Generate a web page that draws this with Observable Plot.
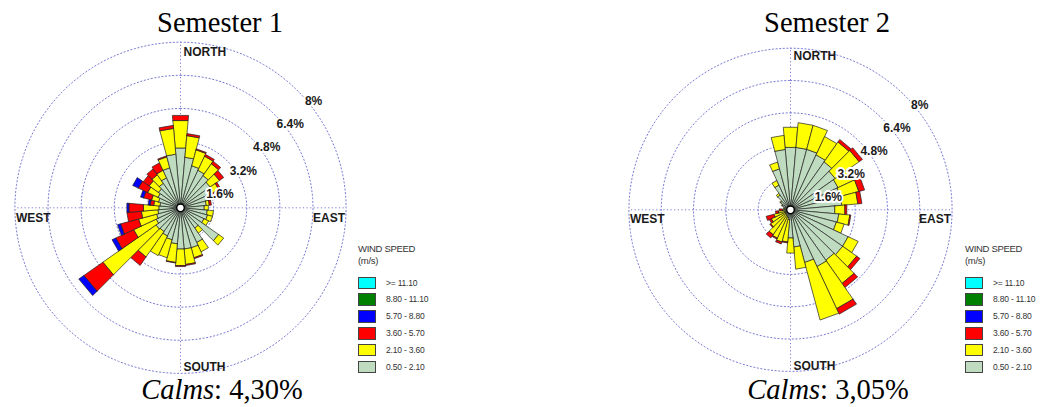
<!DOCTYPE html>
<html>
<head>
<meta charset="utf-8">
<script src="https://cdn.jsdelivr.net/npm/d3@7"></script>
<script src="https://cdn.jsdelivr.net/npm/@observablehq/plot@0.6"></script>
<style>
  html, body { margin: 0; padding: 0; background: #fff; }
  #root { position: relative; width: 1042px; height: 407px; overflow: hidden; background: #fff; }
  .title, .calms { position: absolute; width: 300px; text-align: center; white-space: nowrap;
    font-family: "Liberation Serif", "Times New Roman", serif; font-size: 28.5px; line-height: 28px; color: #000; }
  .rose { position: absolute; }
  .legend { position: absolute; font-family: "Liberation Sans", Arial, sans-serif; color: #333; }
  .legend .head { font-size: 9.5px; line-height: 12px; letter-spacing: -0.3px; }
  .legend .row { position: absolute; left: 0; height: 12px; white-space: nowrap; }
  .legend .sw { position: absolute; left: 0; top: 0; width: 16px; height: 10.5px; border: 1px solid #444; }
  .legend .lab { position: absolute; left: 28px; top: 0; font-size: 8.5px; line-height: 12px; letter-spacing: -0.2px; }
</style>
</head>
<body>
<div id="root"></div>
<script>
// ---------- data ----------
const directions = [0,10,20,30,40,50,60,70,80,90,100,110,120,130,140,150,160,170,180,190,200,210,220,230,240,250,260,270,280,290,300,310,320,330,340,350];
const speedClasses = ["0.50 - 2.10","2.10 - 3.60","3.60 - 5.70","5.70 - 8.80","8.80 - 11.10",">= 11.10"];
const classColors  = ["#c0dcc0","#ffff00","#ff0000","#0000ff","#008000","#00ffff"];
const ringValues = [1.6, 3.2, 4.8, 6.4, 8];
const ringLabels = ["1.6%","3.2%","4.8%","6.4%","8%"];
const compassLabels = ["NORTH","EAST","SOUTH","WEST"];
const compassAngles = [0, 90, 180, 270];
const titles = ["Semester 1", "Semester 2"];
const calmValues = ["4,30%", "3,05%"];

// Semester 1 frequencies (%) per direction, per speed class
const s1_050_210 = [2.9,2.45,2.1,2.0,1.9,1.75,1.6,1.35,1.25,1.15,1.3,1.35,1.25,2.25,1.2,1.85,2.0,2.0,2.0,1.75,1.6,1.5,1.4,1.45,1.3,1.2,1.1,1.05,1.0,1.1,1.2,1.3,1.45,1.6,2.0,2.6];
const s1_210_360 = [1.33,1.05,0.8,0.75,0.7,0.55,0.45,0.35,0.15,0.2,0.3,0.25,0.25,0.3,0.3,0.5,0.5,0.75,0.8,0.9,0.9,1.05,1.5,3.13,1.2,0.9,0.8,0.75,0.3,0.35,0.55,0.55,0.5,0.4,0.55,1.25];
const s1_360_570 = [0.25,0.1,0.05,0.1,0.15,0.25,0.1,0.05,0.1,0,0,0,0,0,0,0,0.05,0.05,0.05,0.03,0,0,0.5,1.12,0.95,0.9,0.7,0.7,0.17,0.4,0.5,0.35,0.35,0.4,0.05,0.15];
const s1_570_880 = [0,0,0,0,0,0,0,0,0,0,0,0,0,0,0,0,0,0,0,0,0,0,0,0.3,0.2,0.15,0,0.1,0.1,0.15,0.3,0,0,0,0,0];
const s1_880_1110 = [0,0,0,0,0,0,0,0,0,0,0,0,0,0,0,0,0,0,0,0,0,0,0,0,0,0,0,0,0,0,0,0,0,0,0,0];
const s1_1110 = [0,0,0,0,0,0,0,0,0,0,0,0,0,0,0,0,0,0,0,0,0,0,0,0,0,0,0,0,0,0,0,0,0,0,0,0];

// Semester 2
const s2_050_210 = [3.1,3.1,3.1,3.0,2.9,2.7,2.6,2.55,2.55,2.2,2.4,2.35,3.15,3.15,3.05,3.1,2.7,1.85,1.4,0.5,0.4,0.35,0.3,0.3,0.3,0.3,0.25,0.2,0.3,0.35,0.45,0.6,0.9,1.35,2.1,3.0];
const s2_210_360 = [1.0,1.23,1.23,1.0,1.2,1.45,0.85,0.95,0.8,0.5,0.55,0.4,0.55,0.85,1.4,2.3,2.95,1.1,0.75,1.1,1.25,1.2,1.2,0.9,0.75,0.55,0.35,0.2,0.05,0,0.05,0.05,0.1,0.25,0.35,0.7];
const s2_360_570 = [0,0,0,0,0.15,0.2,0.05,0.3,0.2,0.1,0.05,0,0,0.2,0.25,0.3,0,0,0,0.05,0.1,0.05,0.2,0.05,0.1,0.4,0.15,0.15,0,0,0,0,0,0,0,0];
const s2_570_880 = [0,0,0,0,0,0,0,0,0,0,0,0,0,0,0,0,0,0,0,0,0,0,0,0,0,0,0,0,0,0,0,0,0,0,0,0];
const s2_880_1110 = [0,0,0,0,0,0,0,0,0,0,0,0,0,0,0,0,0,0,0,0,0,0,0,0,0,0,0,0,0,0,0,0,0,0,0,0];
const s2_1110 = [0,0,0,0,0,0,0,0,0,0,0,0,0,0,0,0,0,0,0,0,0,0,0,0,0,0,0,0,0,0,0,0,0,0,0,0];

const semesters = [
  [s1_050_210, s1_210_360, s1_360_570, s1_570_880, s1_880_1110, s1_1110],
  [s2_050_210, s2_210_360, s2_360_570, s2_570_880, s2_880_1110, s2_1110]
];

// ---------- helpers ----------
const rad = d => d * Math.PI / 180;
const polar = (r, a) => ({x: r * Math.sin(rad(a)), y: r * Math.cos(rad(a))});
const sectorWidth = 360 / directions.length;

function buildWedges(series) {
  const pts = [];
  directions.forEach((dir, i) => {
    let cum = 0;
    series.forEach((vals, c) => {
      const v = vals[i];
      if (!(v > 0)) return;
      const r0 = cum, r1 = cum + v;
      const id = dir + "-" + c;
      const a0 = dir - sectorWidth / 2, a1 = dir + sectorWidth / 2;
      [[r0, a0], [r1, a0], [r1, a1], [r0, a1], [r0, a0]].forEach(([r, a]) => {
        pts.push({id, cls: speedClasses[c], ...polar(r, a)});
      });
      cum = r1;
    });
  });
  return pts;
}

function rose(series, k, cx, cy, W, H, lab) {
  const rmax = d3.max(ringValues);
  const rings = ringValues.flatMap(v => d3.range(0, 361, 2).map(t => ({ring: v, ...polar(v, t)})));
  const axes = compassAngles.map(a => ({a, ...polar(rmax, a)}));
  const grid = "#7a7ad4";
  const dash = "1.2,2.4";
  const font = {fontFamily: "'Liberation Sans', Arial, sans-serif", fontSize: 12, fontWeight: "bold", fill: "#1a1a1a"};
  const comp = (i, opts) => Plot.text([compassLabels[i]], {
    x: () => polar(rmax, compassAngles[i]).x, y: () => polar(rmax, compassAngles[i]).y,
    text: d => d, ...font, ...opts
  });
  return Plot.plot({
    width: W, height: H, margin: 0,
    style: {background: "transparent", overflow: "visible"},
    x: {domain: [-cx / k, (W - cx) / k], axis: null},
    y: {domain: [-(H - cy) / k, cy / k], axis: null},
    color: {domain: speedClasses, range: classColors},
    marks: [
      Plot.line(rings, {x: "x", y: "y", z: "ring", stroke: grid, strokeWidth: 1, strokeDasharray: dash}),
      Plot.link(axes, {x1: () => 0, y1: () => 0, x2: "x", y2: "y", stroke: grid, strokeWidth: 1, strokeDasharray: dash}),
      Plot.line(buildWedges(series), {x: "x", y: "y", z: "id", fill: "cls", stroke: "#222", strokeWidth: 0.7, strokeLinejoin: "miter"}),
      Plot.dot([0], {x: () => 0, y: () => 0, r: 3.8, fill: "white", stroke: "black", strokeWidth: 1.4}),
      comp(0, {textAnchor: "start", dx: 3, dy: lab.nDy}),
      comp(1, {textAnchor: "end", dx: -1, dy: lab.ewDy}),
      comp(2, {textAnchor: "start", dx: 3, dy: lab.sDy}),
      comp(3, {textAnchor: "start", dx: 1, dy: lab.ewDy}),
      Plot.text(ringValues, {
        x: v => polar(v, 45).x, y: v => polar(v, 45).y,
        text: (v, i) => ringLabels[i], dx: lab.rDx, dy: lab.rDy,
        stroke: "white", strokeWidth: 4, strokeLinejoin: "round", ...font
      })
    ]
  });
}

// ---------- layout ----------
const root = document.getElementById("root");
const panels = [
  {k: 20.7, left: 0,   top: 36, W: 352, H: 345, cx: 180, cy: 171.3, titleX: 220, calmX: 222, legX: 358,
   lab: {nDy: 10, ewDy: 10, sDy: -6, rDx: 16, rDy: 10}},
  {k: 20.2, left: 610, top: 38, W: 352, H: 345, cx: 180, cy: 171.3, titleX: 827, calmX: 828, legX: 965,
   lab: {nDy: 8, ewDy: 9, sDy: -5, rDx: 15, rDy: 10}}
];

panels.forEach((p, si) => {
  const t = document.createElement("div");
  t.className = "title";
  t.style.left = (p.titleX - 150) + "px";
  t.style.top = "9px";
  t.textContent = titles[si];
  root.appendChild(t);

  const svg = rose(semesters[si], p.k, p.cx, p.cy, p.W, p.H, p.lab);
  svg.classList.add("rose");
  svg.style.left = p.left + "px";
  svg.style.top = p.top + "px";
  root.appendChild(svg);

  const c = document.createElement("div");
  c.className = "calms";
  c.style.left = (p.calmX - 150) + "px";
  c.style.top = "376px";
  c.innerHTML = "<i>Calms</i>: " + calmValues[si];
  root.appendChild(c);

  const lg = document.createElement("div");
  lg.className = "legend";
  lg.style.left = p.legX + "px";
  lg.style.top = "243px";
  lg.style.width = "90px";
  lg.style.height = "140px";
  const head = document.createElement("div");
  head.className = "head";
  head.innerHTML = "WIND SPEED<br>(m/s)";
  lg.appendChild(head);
  speedClasses.slice().reverse().forEach((cls, j) => {
    const row = document.createElement("div");
    row.className = "row";
    row.style.top = (33.5 + j * 16.85) + "px";
    const sw = document.createElement("div");
    sw.className = "sw";
    sw.style.background = classColors[speedClasses.indexOf(cls)];
    const lb = document.createElement("div");
    lb.className = "lab";
    lb.textContent = cls;
    row.appendChild(sw); row.appendChild(lb);
    lg.appendChild(row);
  });
  root.appendChild(lg);
});
</script>
</body>
</html>
